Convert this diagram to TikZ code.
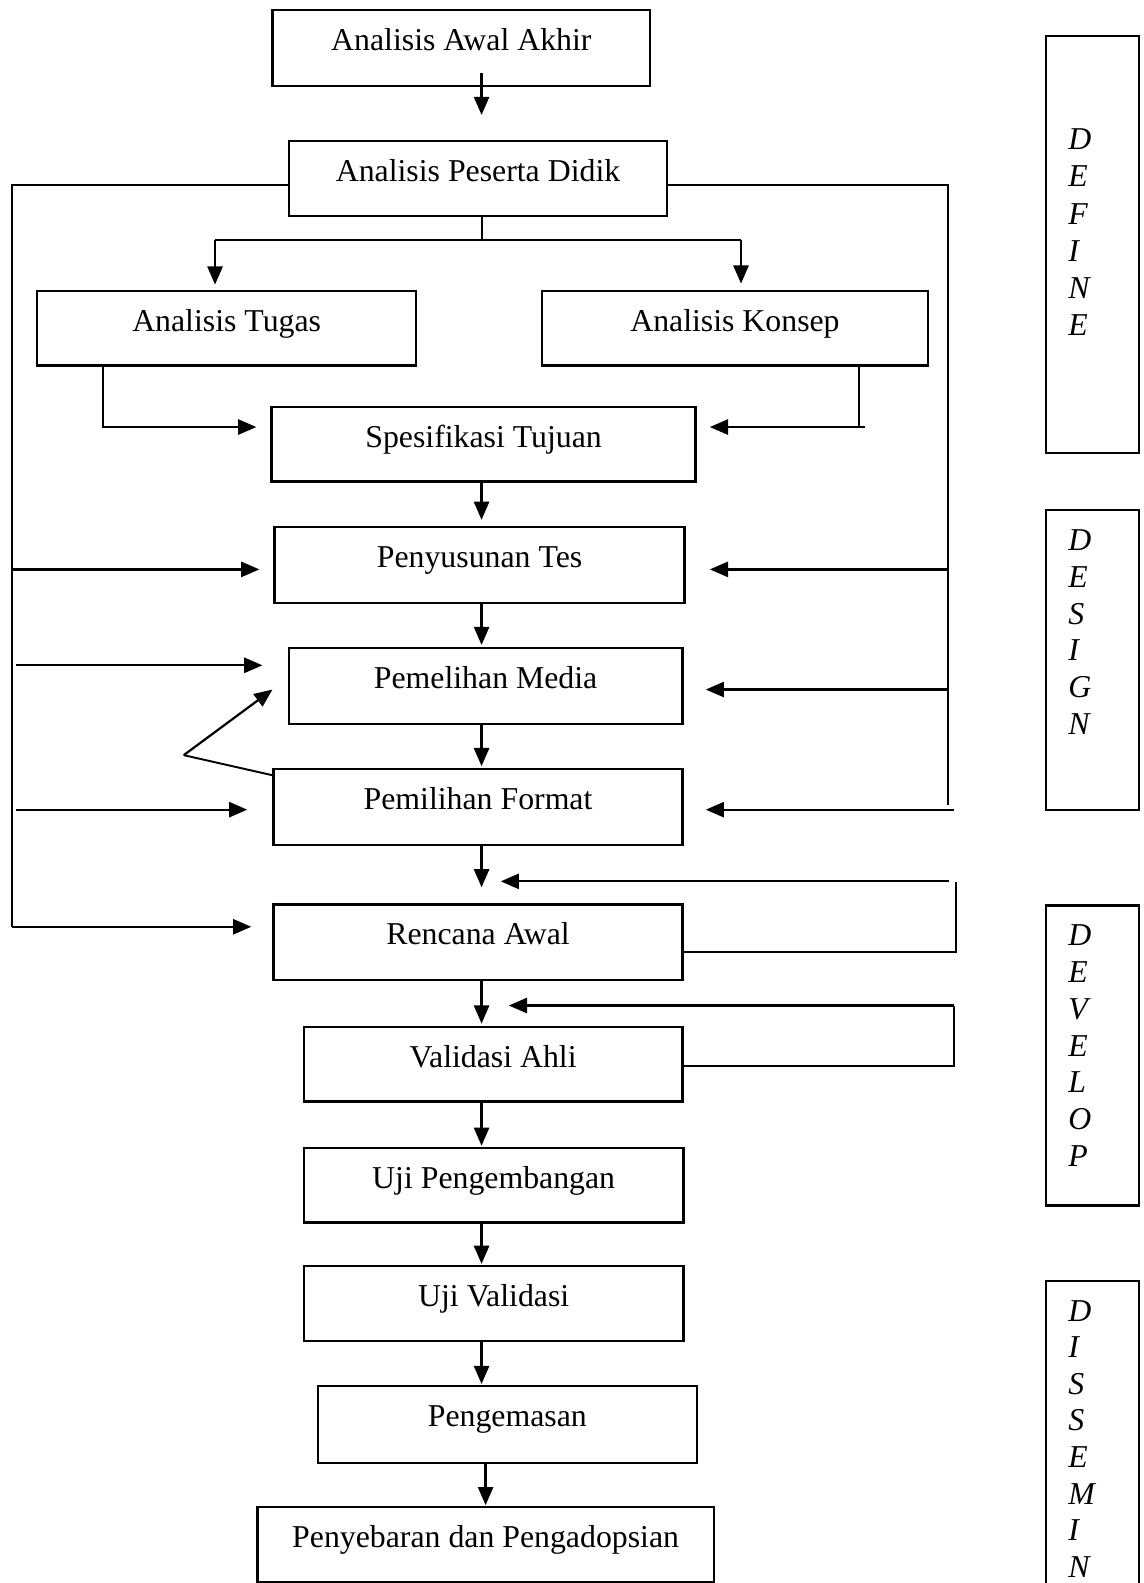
\documentclass[tikz,border=0pt]{standalone}
\usepackage{fontspec}
\setmainfont{Liberation Serif}
\usetikzlibrary{arrows.meta}
\begin{document}
\begin{tikzpicture}[x=1pt,y=-1pt,
  font=\fontsize{31.5}{36}\selectfont,
  box/.style={draw, line width=2.2pt, rectangle, inner sep=0pt, text height=40pt, text depth=34pt},
  arr/.style={line width=2.2pt, -{Triangle[length=18pt,width=15pt]}},
  ln/.style={line width=1.9pt},
  side/.style={draw, line width=2.2pt, minimum width=92pt, inner sep=0pt},
  lett/.style={anchor=base west, inner sep=0pt, font=\fontsize{31.5}{36}\selectfont\itshape}]
\useasboundingbox (0,0) rectangle (1133,1568);
\coordinate (col) at (477,0);

% main boxes
\node[box, minimum width=374pt, text depth=35pt] (A) at (457,47.5) {Analisis Awal Akhir};
\node[box, minimum width=375pt] (B) at (473.5,177) {Analisis Peserta Didik};
\node[box, minimum width=375pt] (T) at (224.5,325) {Analisis Tugas};
\node[box, minimum width=382pt] (K) at (728,325) {Analisis Konsep};
\node[box, minimum width=420pt] (S) at (479,440) {Spesifikasi Tujuan};
\node[box, minimum width=406pt, text depth=35pt] (P) at (475,559.5) {Penyusunan Tes};
\node[box, minimum width=390pt, text depth=35pt] (M) at (481,679.5) {Pemelihan Media};
\node[box, minimum width=405pt, text depth=35pt] (F) at (473.5,799.5) {Pemilihan Format};
\node[box, minimum width=405pt, text depth=35pt] (R) at (473.5,933.5) {Rencana Awal};
\node[box, minimum width=375pt] (V) at (488.5,1054) {Validasi Ahli};
\node[box, minimum width=376pt] (U1) at (489,1174) {Uji Pengembangan};
\node[box, minimum width=376pt] (U2) at (489,1291) {Uji Validasi};
\node[box, minimum width=375pt, text depth=36pt] (G) at (502.5,1411) {Pengemasan};
\node[box, minimum width=452pt] (Y) at (481,1530) {Penyebaran dan Pengadopsian};

% side boxes
\node[side, minimum height=413pt] (def) at (1082,242.5) {};
\node[side, minimum height=297pt] (des) at (1082,653.5) {};
\node[side, minimum height=297pt] (dev) at (1082,1045.5) {};
\node[side, minimum height=360pt] (dis) at (1082,1449) {};
\foreach \l [count=\i from 0] in {D,E,F,I,N,E}
  \node[lett] (defl\i) at (1058,{148.5+36.7*\i}) {\l};
\foreach \l [count=\i from 0] in {D,E,S,I,G,N}
  \node[lett] (desl\i) at (1058,{545.5+36.4*\i}) {\l};
\foreach \l [count=\i from 0] in {D,E,V,E,L,O,P}
  \node[lett] (devl\i) at (1058,{936.5+36.5*\i}) {\l};
\foreach \l [count=\i from 0] in {D,I,S,S,E,M,I,N}
  \node[lett] (disl\i) at (1058,{1308.5+36.3*\i}) {\l};

% top
\draw[arr] ([yshift=14pt]A.south -| col) -- ([yshift=25pt]B.north -| col);
\draw[ln] (B.south -| col) -- (477,238);
\coordinate (tl) at (213,238);
\coordinate (kr) at (734,238);
\draw[ln] (tl) -- (kr);
\draw[arr] (tl) -- ([yshift=5pt]tl |- T.north);
\draw[arr] (kr) -- ([yshift=6pt]kr |- K.north);

% Tugas / Konsep to Spesifikasi
\draw[arr] (T.south -| 102,0) -- (102,423) -- ([xshift=-14pt,yshift=17pt]S.west);
\draw[ln] (K.south -| 851,0) -- (851,423);
\draw[arr] (857,423) -- ([xshift=13pt,yshift=17pt]S.east);

% left feedback line
\draw[ln] ([yshift=-6pt]B.west) -- (12,183) -- (12,918);
\draw[arr] (12,918) -- ([xshift=-21pt,yshift=15.5pt]R.west);
\draw[arr] (12,564) -- ([xshift=-14pt,yshift=-4.5pt]P.west);
\draw[arr] (16,659) -- ([xshift=-25pt,yshift=20.5pt]M.west);
\draw[arr] (16,802) -- ([xshift=-25pt,yshift=-2.5pt]F.west);

% right feedback line
\draw[ln] ([yshift=-6pt]B.east) -- (939,183) -- (939,797);
\draw[arr] (939,564) -- ([xshift=24pt,yshift=-4.5pt]P.east);
\draw[arr] (939,683) -- ([xshift=22pt,yshift=-3.5pt]M.east);
\draw[arr] (945,802) -- ([xshift=22pt,yshift=-2.5pt]F.east);

% diagonal
\draw[ln] ([yshift=-7pt]F.north west) -- (182,748);
\draw[arr] (182,748) -- ([xshift=-15pt,yshift=-3.5pt]M.west);

% main column
\draw[arr] (S.south -| col) -- ([yshift=6pt]P.north -| col);
\draw[arr] (P.south -| col) -- ([yshift=2pt]M.north -| col);
\draw[arr] (M.south -| col) -- ([yshift=2pt]F.north -| col);
\draw[arr] (F.south -| col) -- ([yshift=16pt]R.north -| col);
\draw[arr] (R.south -| col) -- ([yshift=2pt]V.north -| col);
\draw[arr] (V.south -| col) -- ([yshift=1pt]U1.north -| col);
\draw[arr] (U1.south -| col) -- ([yshift=1pt]U2.north -| col);
\draw[arr] (U2.south -| col) -- ([yshift=1pt]G.north -| col);
\draw[arr] (G.south -| 481,0) -- ([yshift=1pt]Y.north -| 481,0);

% right loops
\draw[ln] ([yshift=-9.5pt]R.east) -- (947,943) -- (947,874);
\draw[arr] (940,873) -- (496,873);
\draw[ln] ([yshift=-2pt]V.east) -- (945,1056) -- (945,996);
\draw[arr] (945,996) -- (504,996);
\end{tikzpicture}
\end{document}
